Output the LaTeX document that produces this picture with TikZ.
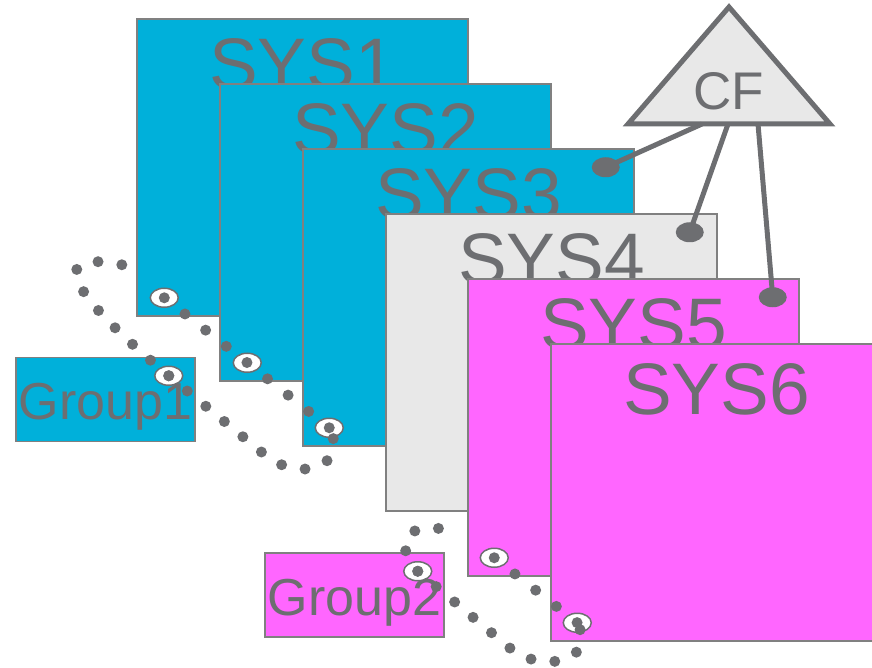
\documentclass[tikz,border=0pt]{standalone}
\usepackage{fontspec}
\setmainfont{Liberation Sans}
\usepackage{xcolor}
\usetikzlibrary{positioning, shapes.geometric}
\definecolor{sysblue}{HTML}{00B0DA}
\definecolor{sysmagenta}{HTML}{FF66FF}
\definecolor{syslight}{HTML}{E8E8E8}
\definecolor{inkgray}{HTML}{6D6E71}
\definecolor{edgegray}{HTML}{808080}
\tikzset{
    sysbox/.style={draw=edgegray, line width=1.5pt, minimum width=331pt, minimum height=297pt, inner sep=0pt}, % one system sheet
    systext/.style={anchor=base, yshift=-71pt, text=inkgray, font=\fontsize{73}{73}\selectfont}, % its title
    groupbox/.style={draw=edgegray, line width=1.5pt, minimum width=179pt, minimum height=84pt, inner sep=0pt,
        text=inkgray, text height=40pt, text depth=0pt, font=\fontsize{52}{52}\selectfont},
    eye/.style={ellipse, draw=inkgray, fill=white, line width=1.5pt, minimum width=28pt, minimum height=19pt, inner sep=0pt},
    pindot/.style={ellipse, fill=inkgray, minimum width=28pt, minimum height=20pt, inner sep=0pt},
    dotline/.style={draw=inkgray, line width=11pt, line cap=round, dash pattern=on 0pt off 24pt}, % round dots
}
\tikzstyle{wire} = [draw=inkgray, line width=5pt]
\begin{document}
\begin{tikzpicture}[x=1pt, y=-1pt, on grid]
    \useasboundingbox (0,0) rectangle (872,668);
    % Sistemi
    \node[sysbox, fill=sysblue, label={[systext]north:SYS1}] (sys1) at (302.5,167.5) {};
    \node[sysbox, fill=sysblue, label={[systext]north:SYS2}] (sys2) [below right=65pt and 83pt of sys1] {};
    \node[sysbox, fill=sysblue, label={[systext]north:SYS3}] (sys3) [below right=65pt and 83pt of sys2] {};
    \node[sysbox, fill=syslight, label={[systext]north:SYS4}] (sys4) [below right=65pt and 83pt of sys3] {};
    \node[sysbox, fill=sysmagenta, label={[systext]north:SYS5}] (sys5) [below right=65pt and 82pt of sys4] {};
    \node[sysbox, fill=sysmagenta, label={[systext]north:SYS6}] (sys6) [below right=65pt and 83pt of sys5] {};

    % Gruppi
    \node[groupbox, fill=sysblue] (grp1) at (105.5,399.5) {Group1};
    \node[groupbox, fill=sysmagenta] (grp2) at (354.5,595) {Group2};

    % Occhi
    \node[eye] (eye1) [above right=19pt and 28pt of sys1.south west, anchor=center] {};
    \node[eye] (eye2) [above right=19pt and 28pt of sys2.south west, anchor=center] {};
    \node[eye] (eye3) [above right=19pt and 27pt of sys3.south west, anchor=center] {};
    \node[eye] (eye5) [above right=19pt and 27pt of sys5.south west, anchor=center] {};
    \node[eye] (eye6) [above right=19pt and 27pt of sys6.south west, anchor=center] {};
    \node[eye] (eyeg1) [below left=19pt and 27pt of grp1.north east, anchor=center] {};
    \node[eye] (eyeg2) [below left=19pt and 27pt of grp2.north east, anchor=center] {};

    % CF
    \coordinate (cftop) at (729,7);
    \draw[inkgray, fill=syslight, line width=5pt] (cftop) -- ++(-101,117) -- ++(202,0) -- cycle;
    \node[text=inkgray, font=\fontsize{53}{53}\selectfont, anchor=base] (cf) at (729,110) {CF};
    \coordinate (cfa) at (702,124);
    \coordinate (cfb) at (728,124);
    \coordinate (cfc) at (758,124);
    \node[pindot] (pin3) [below left=19pt and 29pt of sys3.north east, anchor=center] {};
    \node[pindot] (pin4) [below left=19pt and 28pt of sys4.north east, anchor=center] {};
    \node[pindot] (pin5) [below left=19pt and 27pt of sys5.north east, anchor=center] {};
    \path[wire] (cfa) -- (pin3.center)
                (cfb) -- (pin4.center)
                (cfc) -- (pin5.center);

    % Punti
    \coordinate (g1start) at (123,265);
    \coordinate (g2start) at (452,531);
    \draw[dotline] (eyeg1.center) .. controls (60,285) and (50,250) .. (g1start);
    \draw[dotline] (eyeg1.center) -- ++(96,79) .. controls +(36,29) and +(20,38) .. (eye3.center);
    \draw[dotline, dash pattern=on 0pt off 26.25pt] (eye3.center) -- (eye2.center) -- (eye1.center);
    \draw[dotline] (eyeg2.center) .. controls (390,540) and (410,520) .. (g2start);
    \draw[dotline] (eyeg2.center) -- ++(96,80) .. controls +(30,20) and +(20,40) .. (eye6.center);
    \draw[dotline, dash pattern=on 0pt off 26.3pt] (eye5.center) -- (eye6.center);
\end{tikzpicture}
\end{document}
